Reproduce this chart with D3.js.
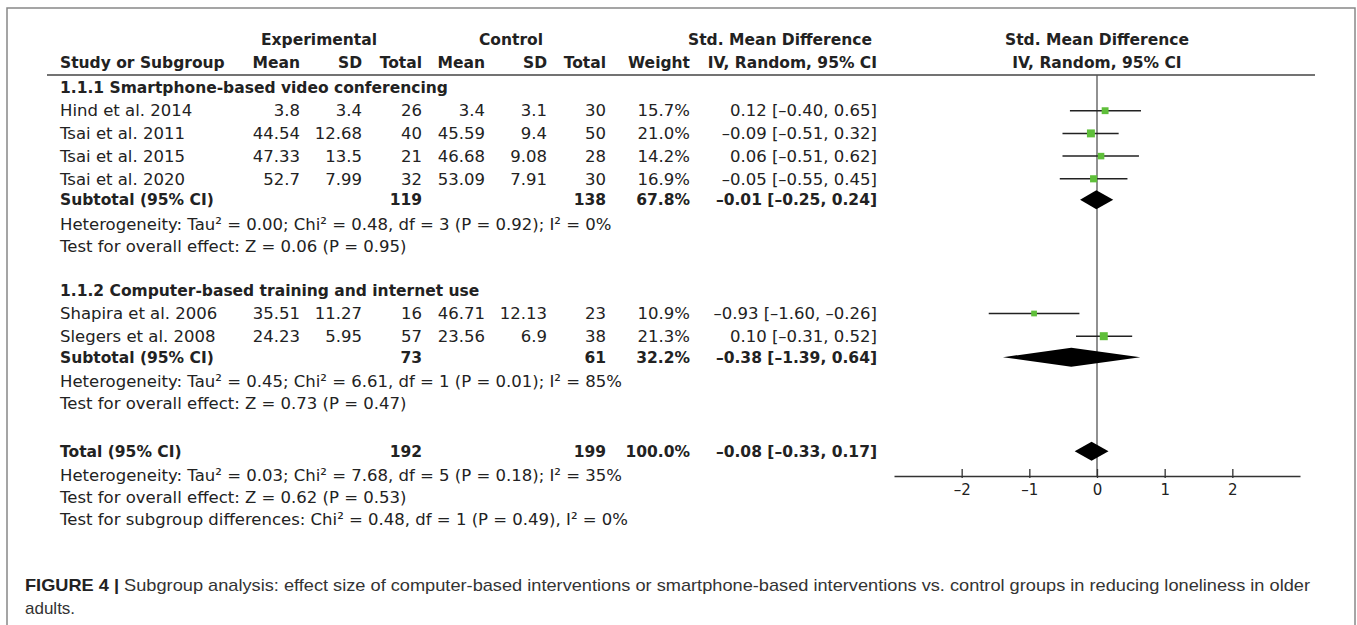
<!DOCTYPE html>
<html>
<head>
<meta charset="utf-8">
<script src="https://cdn.jsdelivr.net/npm/d3@7"></script>
<style>
  body { margin: 0; background: #fff; }
  svg { display: block; }
  .tbl { font-family: "DejaVu Sans", sans-serif; font-size: 16.5px; fill: #222; }
  .bold { font-weight: bold; font-size: 15.5px; }
  .cap { font-family: "Liberation Sans", Arial, sans-serif; font-size: 17px; fill: #333; }
</style>
</head>
<body>
<svg id="chart" width="1357" height="625"></svg>
<script>
// study rows
const studies = ["Hind et al. 2014", "Tsai et al. 2011", "Tsai et al. 2015", "Tsai et al. 2020", "Shapira et al. 2006", "Slegers et al. 2008"];
const studyGroup = [0, 0, 0, 0, 1, 1];
const expMean = [3.8, 44.54, 47.33, 52.7, 35.51, 24.23];
const expSD = [3.4, 12.68, 13.5, 7.99, 11.27, 5.95];
const expN = [26, 40, 21, 32, 16, 57];
const ctlMean = [3.4, 45.59, 46.68, 53.09, 46.71, 23.56];
const ctlSD = [3.1, 9.4, 9.08, 7.91, 12.13, 6.9];
const ctlN = [30, 50, 28, 30, 23, 38];
const weight = [15.7, 21.0, 14.2, 16.9, 10.9, 21.3];
const smd = [0.12, -0.09, 0.06, -0.05, -0.93, 0.10];
const smdLo = [-0.40, -0.51, -0.51, -0.55, -1.60, -0.31];
const smdHi = [0.65, 0.32, 0.62, 0.45, -0.26, 0.52];

// subgroups
const groupNames = ["1.1.1 Smartphone-based video conferencing", "1.1.2 Computer-based training and internet use"];
const subExpN = [119, 73];
const subCtlN = [138, 61];
const subWeight = [67.8, 32.2];
const subSmd = [-0.01, -0.38];
const subLo = [-0.25, -1.39];
const subHi = [0.24, 0.64];
const subNotes = [
  ["Heterogeneity: Tau² = 0.00; Chi² = 0.48, df = 3 (P = 0.92); I² = 0%", "Test for overall effect: Z = 0.06 (P = 0.95)"],
  ["Heterogeneity: Tau² = 0.45; Chi² = 6.61, df = 1 (P = 0.01); I² = 85%", "Test for overall effect: Z = 0.73 (P = 0.47)"]
];

// overall
const totalExpN = 192, totalCtlN = 199, totalWeight = 100.0;
const totalSmd = -0.08, totalLo = -0.33, totalHi = 0.17;
const totalNotes = [
  "Heterogeneity: Tau² = 0.03; Chi² = 7.68, df = 5 (P = 0.18); I² = 35%",
  "Test for overall effect: Z = 0.62 (P = 0.53)",
  "Test for subgroup differences: Chi² = 0.48, df = 1 (P = 0.49), I² = 0%"
];
const axisTicks = [-2, -1, 0, 1, 2];

const svg = d3.select('#chart');
// RevMan prints negatives with a short dash
const loc = d3.formatLocale({ decimal: '.', thousands: ',', grouping: [3], currency: ['', ''], minus: '\u2013' });
const f2 = loc.format('.2f');
const ci = (m, l, h) => `${f2(m)} [${f2(l)}, ${f2(h)}]`;
const pct = w => w.toFixed(1) + '%';

// frame
svg.append('rect').attr('x', 7).attr('y', 8).attr('width', 1348).attr('height', 700)
  .attr('fill', 'none').attr('stroke', '#888').attr('stroke-width', 1.5);

// column right edges
const col = { name: 60, eMean: 300, eSD: 362, eN: 422, cMean: 485, cSD: 547, cN: 606, w: 690, est: 877 };

// forest scale
const x = d3.scaleLinear().domain([-3, 3]).range([894, 1300]);
const sq = d3.scaleSqrt().domain([0, 21.3]).range([0, 8]);

function txt(xp, y, s, anchor, bold) {
  svg.append('text').attr('class', 'tbl' + (bold ? ' bold' : ''))
    .attr('x', xp).attr('y', y).attr('dy', '0.35em')
    .attr('text-anchor', anchor || 'end').text(s);
}

// headers
txt(319, 40, 'Experimental', 'middle', true);
txt(511, 40, 'Control', 'middle', true);
txt(780, 40, 'Std. Mean Difference', 'middle', true);
txt(x(0), 40, 'Std. Mean Difference', 'middle', true);
txt(col.name, 63, 'Study or Subgroup', 'start', true);
[['eMean', 'Mean'], ['eSD', 'SD'], ['eN', 'Total'], ['cMean', 'Mean'], ['cSD', 'SD'], ['cN', 'Total'], ['w', 'Weight'], ['est', 'IV, Random, 95% CI']]
  .forEach(([k, s]) => txt(col[k], 63, s, 'end', true));
txt(x(0), 63, 'IV, Random, 95% CI', 'middle', true);

svg.append('line').attr('x1', 47).attr('x2', 1315).attr('y1', 75).attr('y2', 75)
  .attr('stroke', '#444').attr('stroke-width', 1.5);

// build row layout
const rows = [];
let y = 88;
groupNames.forEach((g, gi) => {
  if (gi > 0) y += 45;
  rows.push({ kind: 'group', gi, y });
  studies.forEach((s, i) => {
    if (studyGroup[i] !== gi) return;
    y += 22.7;
    rows.push({ kind: 'study', i, y });
  });
  y += 21;
  rows.push({ kind: 'sub', gi, y });
  subNotes[gi].forEach((n, k) => {
    y += k === 0 ? 24 : 22;
    rows.push({ kind: 'note', text: n, y });
  });
});
y += 48;
rows.push({ kind: 'total', y });
totalNotes.forEach((n, k) => {
  y += k === 0 ? 24 : 22;
  rows.push({ kind: 'note', text: n, y });
});

const axisY = 476;

// zero line
svg.append('line').attr('x1', x(0)).attr('x2', x(0)).attr('y1', 75).attr('y2', axisY)
  .attr('stroke', '#555').attr('stroke-width', 1.3);

function diamond(m, l, h, yc) {
  const hh = 9.5;
  svg.append('path')
    .attr('d', `M${x(l)},${yc}L${x(m)},${yc - hh}L${x(h)},${yc}L${x(m)},${yc + hh}Z`)
    .attr('fill', '#000');
}

rows.forEach(r => {
  if (r.kind === 'group') {
    txt(col.name, r.y, groupNames[r.gi], 'start', true);
  } else if (r.kind === 'study') {
    const i = r.i;
    txt(col.name, r.y, studies[i], 'start');
    txt(col.eMean, r.y, String(expMean[i]));
    txt(col.eSD, r.y, String(expSD[i]));
    txt(col.eN, r.y, String(expN[i]));
    txt(col.cMean, r.y, String(ctlMean[i]));
    txt(col.cSD, r.y, String(ctlSD[i]));
    txt(col.cN, r.y, String(ctlN[i]));
    txt(col.w, r.y, pct(weight[i]));
    txt(col.est, r.y, ci(smd[i], smdLo[i], smdHi[i]));
    svg.append('line').attr('x1', x(smdLo[i])).attr('x2', x(smdHi[i]))
      .attr('y1', r.y).attr('y2', r.y).attr('stroke', '#222').attr('stroke-width', 1.5);
    const s = sq(weight[i]);
    svg.append('rect').attr('x', x(smd[i]) - s / 2).attr('y', r.y - s / 2)
      .attr('width', s).attr('height', s).attr('fill', '#5fbf3a');
  } else if (r.kind === 'sub') {
    const g = r.gi;
    txt(col.name, r.y, 'Subtotal (95% CI)', 'start', true);
    txt(col.eN, r.y, String(subExpN[g]), 'end', true);
    txt(col.cN, r.y, String(subCtlN[g]), 'end', true);
    txt(col.w, r.y, pct(subWeight[g]), 'end', true);
    txt(col.est, r.y, ci(subSmd[g], subLo[g], subHi[g]), 'end', true);
    diamond(subSmd[g], subLo[g], subHi[g], r.y);
  } else if (r.kind === 'total') {
    txt(col.name, r.y, 'Total (95% CI)', 'start', true);
    txt(col.eN, r.y, String(totalExpN), 'end', true);
    txt(col.cN, r.y, String(totalCtlN), 'end', true);
    txt(col.w, r.y, pct(totalWeight), 'end', true);
    txt(col.est, r.y, ci(totalSmd, totalLo, totalHi), 'end', true);
    diamond(totalSmd, totalLo, totalHi, r.y);
  } else {
    txt(col.name, r.y, r.text, 'start');
  }
});

// axis
const ax = svg.append('g').attr('transform', `translate(0,${axisY})`)
  .call(d3.axisBottom(x).tickValues(axisTicks).tickFormat(loc.format('d'))
    .tickSizeOuter(0).tickSizeInner(-6).tickPadding(8));
ax.select('.domain').attr('stroke', '#333').attr('stroke-width', 1.5);
ax.selectAll('.tick line').attr('y1', 2).attr('y2', -7).attr('stroke', '#333').attr('stroke-width', 1.3);
ax.selectAll('.tick text').attr('font-family', '"DejaVu Sans", sans-serif').attr('font-size', 15).attr('fill', '#222');

// caption
const cap1 = svg.append('text').attr('class', 'cap').attr('x', 25).attr('y', 591)
  .attr('textLength', 1285).attr('lengthAdjust', 'spacingAndGlyphs');
cap1.append('tspan').attr('font-weight', 'bold').attr('fill', '#222').text('FIGURE 4 | ');
cap1.append('tspan').text('Subgroup analysis: effect size of computer-based interventions or smartphone-based interventions vs. control groups in reducing loneliness in older');
svg.append('text').attr('class', 'cap').attr('x', 25).attr('y', 614).text('adults.');
</script>
</body>
</html>
